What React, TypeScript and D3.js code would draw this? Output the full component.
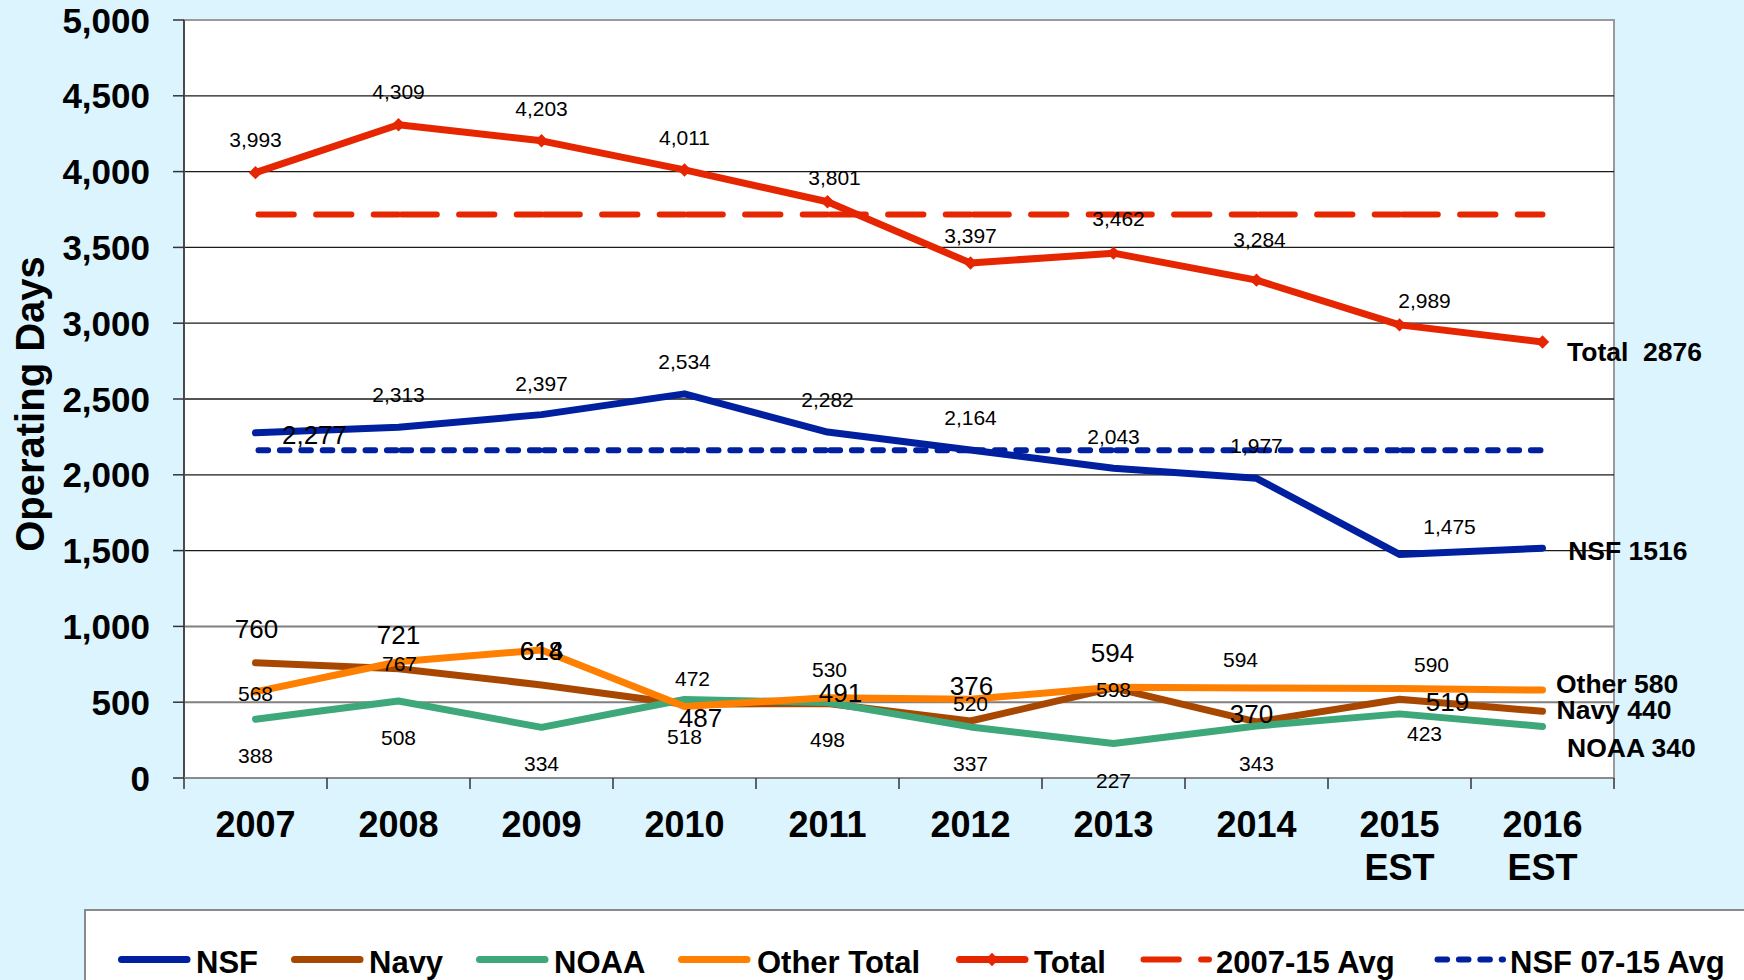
import * as d3 from "d3";

// Operating days per year
const YEARS = ["2007", "2008", "2009", "2010", "2011", "2012", "2013", "2014", "2015", "2016"];
const YEAR_NOTE = ["", "", "", "", "", "", "", "", "EST", "EST"];

const NSF = [2277, 2313, 2397, 2534, 2282, 2164, 2043, 1977, 1475, 1516];
const NAVY = [760, 721, 614, 487, 491, 376, 594, 370, 519, 440];
const NOAA = [388, 508, 334, 518, 498, 337, 227, 343, 423, 340];
const OTHER = [568, 767, 845, 472, 530, 520, 598, 594, 590, 580];
const TOTAL = [3993, 4309, 4203, 4011, 3801, 3397, 3462, 3284, 2989, 2876];

const TOTAL_AVG = 3717; // 2007-15 Avg
const NSF_AVG = 2162; // NSF 07-15 Avg

const Y_TICKS = [0, 500, 1000, 1500, 2000, 2500, 3000, 3500, 4000, 4500, 5000];

// data labels as printed (last point gets an end label instead)
const fmt = d3.format(",");
const TOTAL_LABELS = TOTAL.slice(0, 9).map(fmt);
const NSF_LABELS = NSF.slice(0, 9).map(fmt);
const NAVY_LABELS = NAVY.slice(0, 9).map(String);
const NOAA_LABELS = NOAA.slice(0, 9).map(String);
const OTHER_LABELS = ["568", "767", "618", "472", "530", "520", "598", "594", "590"];

const END_LABELS = {
  total: "Total  2876",
  nsf: "NSF 1516",
  other: "Other 580",
  navy: "Navy 440",
  noaa: "NOAA 340",
};

// label nudges relative to the point: [dx, dy, big]
const TOTAL_NUDGE = [[0, -33], [0, -33], [0, -32], [0, -32], [7, -24], [0, -28], [5, -35], [3, -41], [25, -24]];
const NSF_NUDGE = [[59, 1.5, 1], [0, -33], [0, -31], [0, -32], [0, -33], [0, -32], [0, -32], [0, -33], [50, -28]];
const NAVY_NUDGE = [[1, -34.5, 1], [0, -34.5, 1], [0, -34, 1], [16, 13, 1], [13, -11, 1], [1, -35, 1], [-1, -35, 1], [-5, -8, 1], [48, 2, 1]];
const OTHER_NUDGE = [[0, 2], [1, 2], [0, 1, 1], [8, -28], [2, -28], [0, 4], [0, 2], [-16, -29], [32, -24]];
const NOAA_NUDGE = [[0, 36.6], [0, 36.5], [0, 36.4], [0, 36.7], [0, 37], [0, 37], [0, 37], [0, 37], [25, 19.5]];

const C = {
  bg: "#DCF4FE",
  total: "#E62600",
  nsf: "#0020A0",
  navy: "#A84800",
  noaa: "#3EA87A",
  other: "#FF7F00",
};

const W = 1744;
const H = 980;
const PL = 184;
const PR = 1614;
const PT = 20;
const PB = 778;
const FONT = "Liberation Sans, Arial, sans-serif";

export default function App() {
  const x = d3.scaleBand<string>().domain(YEARS).range([PL, PR]);
  const bw = x.bandwidth();
  const xc = (i: number) => (x(YEARS[i]) as number) + bw / 2;
  const y = d3.scaleLinear().domain([0, 5000]).range([PB, PT]);

  const line = d3
    .line<number>()
    .x((_d, i) => xc(i))
    .y((d) => y(d));

  const diamond = d3.symbol().type(d3.symbolSquare).size(90)() || "";

  const series = [
    { key: "nsf", vals: NSF, color: C.nsf },
    { key: "navy", vals: NAVY, color: C.navy },
    { key: "noaa", vals: NOAA, color: C.noaa },
    { key: "other", vals: OTHER, color: C.other },
    { key: "total", vals: TOTAL, color: C.total },
  ];

  const labelSets = [
    { vals: TOTAL, labels: TOTAL_LABELS, nudge: TOTAL_NUDGE },
    { vals: NSF, labels: NSF_LABELS, nudge: NSF_NUDGE },
    { vals: OTHER, labels: OTHER_LABELS, nudge: OTHER_NUDGE },
    { vals: NAVY, labels: NAVY_LABELS, nudge: NAVY_NUDGE },
    { vals: NOAA, labels: NOAA_LABELS, nudge: NOAA_NUDGE },
  ];

  const ends = [
    { text: END_LABELS.total, v: TOTAL[9], dx: 24.5, dy: 9.7 },
    { text: END_LABELS.nsf, v: NSF[9], dx: 25.7, dy: 2.3 },
    { text: END_LABELS.other, v: OTHER[9], dx: 13.5, dy: -7 },
    { text: END_LABELS.navy, v: NAVY[9], dx: 14, dy: -2 },
    { text: END_LABELS.noaa, v: NOAA[9], dx: 24.5, dy: 21 },
  ];

  // average lines: dash pattern restarts at every category, like the slide
  const avgSegs = (v: number) =>
    d3.range(YEARS.length - 1).map((i) => ({ x1: xc(i), x2: xc(i + 1), y: y(v) }));

  const legend = [
    { label: "NSF", color: C.nsf, x: 118, tx: 196 },
    { label: "Navy", color: C.navy, x: 291, tx: 369 },
    { label: "NOAA", color: C.noaa, x: 476, tx: 554 },
    { label: "Other Total", color: C.other, x: 678, tx: 757 },
    { label: "Total", color: C.total, x: 956, tx: 1034, marker: true },
    { label: "2007-15 Avg", color: C.total, x: 1140, tx: 1216, dash: "35.3 22.3", w: 6 },
    { label: "NSF 07-15 Avg", color: C.nsf, x: 1434, tx: 1510, dash: "9.6 11.8", w: 6 },
  ];
  const LEG_Y = 959.5;

  return (
    <svg
      width={W}
      height={H}
      style={{ position: "fixed", left: 0, top: 0, background: C.bg }}
      fontFamily={FONT}
    >
      <rect x={0} y={0} width={W} height={H} fill={C.bg} />
      {/* plot area */}
      <rect x={PL} y={PT} width={PR - PL} height={PB - PT} fill="#fff" stroke="#9a9a9a" strokeWidth={2} />

      {/* gridlines */}
      {Y_TICKS.filter((t) => t > 0 && t < 5000).map((t) => (
        <line
          key={t}
          x1={PL}
          x2={PR}
          y1={y(t)}
          y2={y(t)}
          stroke={t <= 1000 ? "#808080" : "#1a1a1a"}
          strokeWidth={t <= 1000 ? 2 : 1.3}
        />
      ))}

      {/* axes */}
      <line x1={PL} x2={PL} y1={PT} y2={PB} stroke="#4a4a4a" strokeWidth={2} />
      <line x1={PL} x2={PR} y1={PB} y2={PB} stroke="#8a8a8a" strokeWidth={2} />
      {Y_TICKS.map((t) => (
        <g key={t}>
          <line x1={PL - 11} x2={PL} y1={y(t)} y2={y(t)} stroke="#333" strokeWidth={1.5} />
          <text
            x={150}
            y={y(t)}
            dy="0.36em"
            textAnchor="end"
            fontSize={35}
            fontWeight="bold"
            fill="#000"
          >
            {fmt(t)}
          </text>
        </g>
      ))}
      {d3.range(YEARS.length + 1).map((i) => {
        const xx = PL + i * bw;
        return <line key={i} x1={xx} x2={xx} y1={PB} y2={PB + 11} stroke="#333" strokeWidth={1.5} />;
      })}
      {YEARS.map((yr, i) => (
        <g key={yr}>
          <text x={xc(i)} y={837} textAnchor="middle" fontSize={36} fontWeight="bold">
            {yr}
          </text>
          {YEAR_NOTE[i] && (
            <text x={xc(i)} y={880} textAnchor="middle" fontSize={36} fontWeight="bold">
              {YEAR_NOTE[i]}
            </text>
          )}
        </g>
      ))}

      {/* y axis title */}
      <text
        transform={`translate(44,404) rotate(-90)`}
        textAnchor="middle"
        fontSize={40}
        fontWeight="bold"
      >
        Operating Days
      </text>

      {/* series lines */}
      {series.map((s) => (
        <path
          key={s.key}
          d={line(s.vals) || ""}
          fill="none"
          stroke={s.color}
          strokeWidth={7}
          strokeLinejoin="round"
          strokeLinecap="round"
        />
      ))}
      {TOTAL.map((v, i) => (
        <path
          key={i}
          d={diamond}
          transform={`translate(${xc(i)},${y(v)}) rotate(45)`}
          fill={C.total}
        />
      ))}

      {/* average lines */}
      {avgSegs(TOTAL_AVG).map((s, i) => (
        <line
          key={"ta" + i}
          x1={s.x1 + 3}
          x2={s.x2}
          y1={s.y}
          y2={s.y}
          stroke={C.total}
          strokeWidth={6}
          strokeDasharray="35.3 22.3"
          strokeLinecap="round"
        />
      ))}
      {avgSegs(NSF_AVG).map((s, i) => (
        <line
          key={"na" + i}
          x1={s.x1 + 3}
          x2={s.x2}
          y1={s.y}
          y2={s.y}
          stroke={C.nsf}
          strokeWidth={6}
          strokeDasharray="9.6 11.8"
          strokeLinecap="round"
        />
      ))}

      {/* data labels */}
      {labelSets.map((set, si) =>
        set.labels.map((lab, i) => {
          const n = set.nudge[i];
          const big = n[2] === 1;
          return (
            <text
              key={si + "-" + i}
              x={xc(i) + n[0]}
              y={y(set.vals[i]) + n[1]}
              dy="0.36em"
              textAnchor="middle"
              fontSize={big ? 26 : 21}
              fill="#000"
            >
              {lab}
            </text>
          );
        })
      )}

      {/* end labels */}
      {ends.map((e) => (
        <text
          key={e.text}
          x={xc(9) + e.dx}
          y={y(e.v) + e.dy}
          dy="0.36em"
          fontSize={26.5}
          fontWeight="bold"
          style={{ whiteSpace: "pre" }}
        >
          {e.text}
        </text>
      ))}

      {/* legend */}
      <rect x={85} y={910} width={1800} height={200} fill="#fff" stroke="#8a8a8a" strokeWidth={2} />
      {legend.map((l) => (
        <g key={l.label}>
          <line
            x1={l.x + 3.5}
            x2={l.x + 69}
            y1={LEG_Y}
            y2={LEG_Y}
            stroke={l.color}
            strokeWidth={l.w || 7}
            strokeLinecap="round"
            strokeDasharray={l.dash}
          />
          {l.marker && (
            <path d={diamond} transform={`translate(${l.x + 36},${LEG_Y}) rotate(45)`} fill={l.color} />
          )}
          <text x={l.tx} y={973} fontSize={31} fontWeight="bold">
            {l.label}
          </text>
        </g>
      ))}
    </svg>
  );
}
